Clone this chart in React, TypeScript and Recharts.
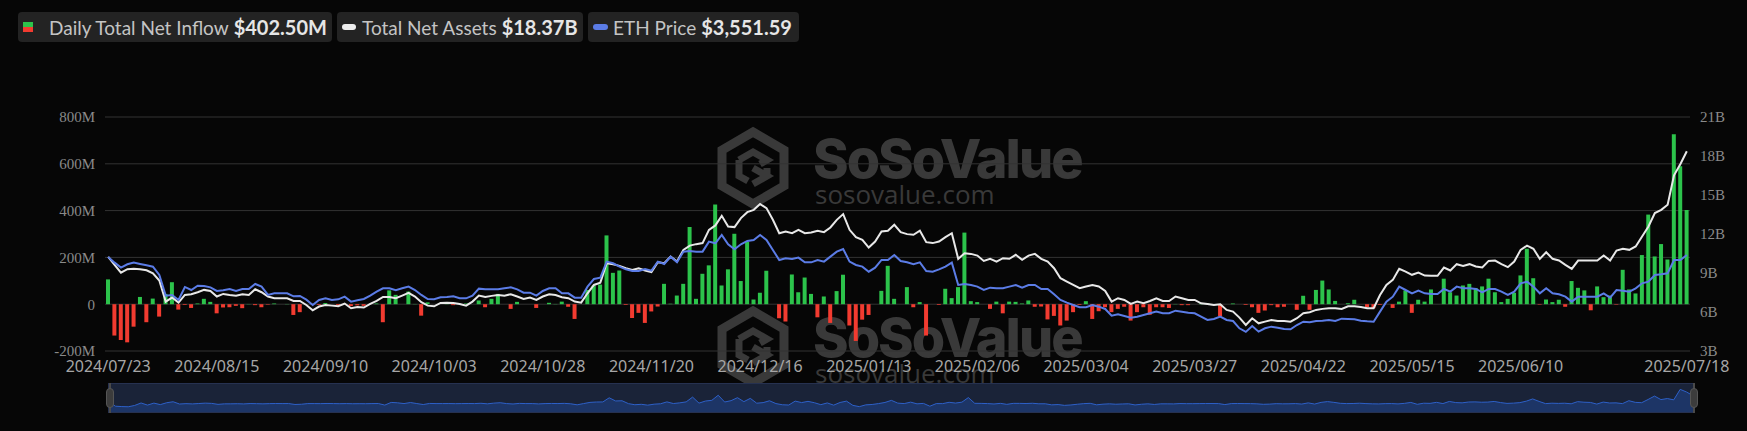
import React from 'react';
import {
  ComposedChart, Bar, Line, XAxis, YAxis, CartesianGrid, Cell,
  AreaChart, Area
} from 'recharts';

// trading days per month (US market calendar)
const tradingDays: [string, number[]][] = [
  ['2024/07', [23, 24, 25, 26, 29, 30, 31]],
  ['2024/08', [1, 2, 5, 6, 7, 8, 9, 12, 13, 14, 15, 16, 19, 20, 21, 22, 23, 26, 27, 28, 29, 30]],
  ['2024/09', [3, 4, 5, 6, 9, 10, 11, 12, 13, 16, 17, 18, 19, 20, 23, 24, 25, 26, 27, 30]],
  ['2024/10', [1, 2, 3, 4, 7, 8, 9, 10, 11, 14, 15, 16, 17, 18, 21, 22, 23, 24, 25, 28, 29, 30, 31]],
  ['2024/11', [1, 4, 5, 6, 7, 8, 11, 12, 13, 14, 15, 18, 19, 20, 21, 22, 25, 26, 27, 29]],
  ['2024/12', [2, 3, 4, 5, 6, 9, 10, 11, 12, 13, 16, 17, 18, 19, 20, 23, 24, 26, 27, 30, 31]],
  ['2025/01', [2, 3, 6, 7, 8, 10, 13, 14, 15, 16, 17, 21, 22, 23, 24, 27, 28, 29, 30, 31]],
  ['2025/02', [3, 4, 5, 6, 7, 10, 11, 12, 13, 14, 18, 19, 20, 21, 24, 25, 26, 27, 28]],
  ['2025/03', [3, 4, 5, 6, 7, 10, 11, 12, 13, 14, 17, 18, 19, 20, 21, 24, 25, 26, 27, 28, 31]],
  ['2025/04', [1, 2, 3, 4, 7, 8, 9, 10, 11, 14, 15, 16, 17, 21, 22, 23, 24, 25, 28, 29, 30]],
  ['2025/05', [1, 2, 5, 6, 7, 8, 9, 12, 13, 14, 15, 16, 19, 20, 21, 22, 23, 27, 28, 29, 30]],
  ['2025/06', [2, 3, 4, 5, 6, 9, 10, 11, 12, 13, 16, 17, 18, 20, 23, 24, 25, 26, 27, 30]],
  ['2025/07', [1, 2, 3, 7, 8, 9, 10, 11, 14, 15, 16, 17, 18]],
];

const xTicks = [
  '2024/07/23', '2024/08/15', '2024/09/10', '2024/10/03', '2024/10/28', '2024/11/20',
  '2024/12/16', '2025/01/13', '2025/02/06', '2025/03/04', '2025/03/27', '2025/04/22',
  '2025/05/15', '2025/06/10', '2025/07/18',
];

// daily total net inflow, $M
const netInflow = [
  106, -134, -153, -163, -96, 31, -77, 24, -53, 44,
  94, -23, -3, -16, 3, 23, 10, -39, -14, -13,
  -7, -17, 1, -4, -13, -2, 3, 0, 1, -46,
  -34, 0, 0, -3, 5, 0, -6, 0, -8, -5,
  -7, 0, 3, -77, 59, 40, 0, 54, 1, -49,
  8, 0, 0, 1, -4, 0, 3, 0, 16, -13,
  23, 44, 0, -20, 10, 0, 0, -16, 0, 6,
  1, 11, -11, -63, 0, 61, 80, 84, 294, 134,
  144, -3, -59, -37, -80, -31, -10, 87, 2, 37,
  87, 330, 23, 130, 166, 426, 80, 149, 301, 99,
  266, 20, 49, 143, 0, -60, -74, 127, 51, 114,
  44, -56, 33, -80, 56, 126, -91, -157, -66, -46,
  0, 57, 164, 23, 0, 73, -13, 9, -134, 0,
  -3, 66, 26, 73, 306, 13, 9, 0, -20, 11,
  -39, 11, 10, 3, 16, -11, -10, -65, -50, -91,
  -70, -34, -3, 13, -63, -30, -13, -34, -20, -11,
  -70, -34, -13, -45, -13, -13, -16, 1, -4, -4,
  0, 3, 3, 0, -51, 0, 3, 0, -3, -13,
  -37, -27, -4, -13, -11, 0, -24, 36, -24, 61,
  101, 63, 14, 0, 4, 19, 0, -13, -17, -3,
  0, -16, 11, 59, -37, 19, 11, 63, 0, 109,
  51, 37, 80, 87, 69, 76, 109, 51, 9, 23,
  49, 123, 237, 111, -2, 20, 9, 19, -11, 99,
  70, 59, -26, 76, 30, 37, -2, 147, 63, 46,
  210, 383, 204, 257, 191, 726, 590, 402.5,
];

// total net assets, $B
const netAssets = [
  10.24, 9.63, 9.03, 9.29, 9.32, 9.29, 9.21, 8.98, 8.42, 6.80,
  7.11, 6.72, 7.31, 7.37, 7.52, 7.70, 7.62, 7.19, 7.39, 7.31,
  7.26, 7.37, 7.31, 7.75, 7.52, 7.19, 7.06, 7.06, 7.06, 6.85,
  6.85, 6.54, 6.13, 6.42, 6.54, 6.49, 6.44, 6.65, 6.29, 6.39,
  6.34, 6.62, 6.85, 7.16, 7.16, 7.06, 7.26, 7.47, 7.19, 6.75,
  6.49, 6.44, 6.70, 6.72, 6.70, 6.62, 6.49, 6.80, 7.26, 7.16,
  7.24, 7.31, 7.26, 7.37, 7.19, 7.01, 7.11, 6.93, 7.19, 7.37,
  7.31, 7.14, 7.06, 6.80, 6.72, 7.44, 8.08, 8.26, 9.75, 9.68,
  9.55, 9.37, 9.24, 9.37, 9.19, 9.06, 9.83, 9.75, 10.27, 9.88,
  10.78, 11.11, 11.22, 11.30, 12.32, 12.66, 13.40, 12.58, 12.53, 13.22,
  13.68, 13.86, 14.30, 13.99, 13.09, 12.06, 12.19, 12.06, 12.32, 12.06,
  12.12, 12.25, 12.14, 12.50, 13.09, 13.53, 12.32, 11.76, 11.55, 10.96,
  11.42, 12.19, 12.25, 12.71, 12.14, 11.99, 11.94, 12.25, 11.37, 11.30,
  11.42, 11.76, 12.06, 10.09, 10.52, 10.47, 10.34, 9.93, 10.09, 9.88,
  10.14, 10.09, 10.40, 10.01, 10.34, 10.47, 10.09, 9.88, 9.37, 8.60,
  8.34, 8.08, 7.83, 7.96, 8.08, 7.96, 7.62, 6.80, 7.06, 6.93,
  6.62, 6.80, 6.67, 6.85, 7.06, 6.85, 6.85, 7.19, 7.06, 6.93,
  6.93, 6.67, 6.62, 6.54, 6.60, 6.16, 6.03, 5.57, 5.00, 5.52,
  5.13, 5.26, 5.39, 5.31, 5.31, 5.26, 5.52, 5.90, 5.98, 6.16,
  6.24, 6.29, 6.29, 6.24, 6.44, 6.44, 6.39, 6.29, 6.29, 7.31,
  8.08, 8.47, 9.32, 9.11, 8.86, 9.03, 8.80, 8.78, 8.78, 9.42,
  9.19, 9.68, 9.55, 9.68, 9.50, 9.42, 9.93, 9.96, 9.68, 9.45,
  9.88, 10.78, 11.11, 10.86, 10.09, 10.60, 10.09, 9.96, 9.63, 9.32,
  9.96, 9.96, 9.96, 9.96, 10.34, 9.96, 10.73, 10.86, 10.78, 11.04,
  11.81, 12.58, 13.61, 13.86, 14.25, 16.51, 17.38, 18.37,
];

// ETH price, $
const ethPrice = [
  3496, 3339, 3200, 3293, 3339, 3302, 3265, 3228, 2997, 2424,
  2443, 2304, 2665, 2581, 2701, 2692, 2655, 2554, 2572, 2609,
  2554, 2609, 2609, 2748, 2674, 2443, 2489, 2489, 2489, 2406,
  2415, 2313, 2166, 2304, 2350, 2304, 2323, 2396, 2258, 2295,
  2332, 2424, 2535, 2628, 2628, 2572, 2628, 2674, 2581, 2443,
  2332, 2323, 2378, 2387, 2406, 2350, 2350, 2424, 2618, 2600,
  2600, 2600, 2628, 2655, 2600, 2507, 2507, 2424, 2554, 2628,
  2628, 2489, 2489, 2369, 2369, 2674, 2886, 2923, 3367, 3321,
  3228, 3154, 3108, 3108, 3163, 3117, 3367, 3302, 3505, 3348,
  3644, 3662, 3644, 3644, 3921, 3875, 4106, 3847, 3709, 3847,
  3940, 3967, 4106, 3967, 3690, 3413, 3459, 3441, 3478, 3348,
  3348, 3413, 3367, 3505, 3644, 3718, 3367, 3274, 3228, 3089,
  3200, 3413, 3413, 3551, 3385, 3348, 3293, 3348, 3108, 3089,
  3154, 3228, 3339, 2720, 2748, 2720, 2674, 2581, 2646, 2628,
  2628, 2674, 2720, 2646, 2720, 2720, 2609, 2609, 2461, 2304,
  2230, 2166, 2101, 2101, 2166, 2119, 2055, 1870, 1907, 1861,
  1814, 1842, 1888, 1935, 1981, 1935, 1935, 2008, 1981, 1953,
  1935, 1842, 1750, 1777, 1842, 1750, 1722, 1519, 1420, 1583,
  1426, 1519, 1565, 1537, 1500, 1491, 1611, 1703, 1685, 1722,
  1731, 1750, 1722, 1787, 1777, 1768, 1731, 1713, 1703, 1981,
  2258, 2396, 2674, 2581, 2489, 2563, 2489, 2470, 2470, 2609,
  2535, 2674, 2628, 2628, 2609, 2517, 2609, 2609, 2535, 2443,
  2535, 2766, 2812, 2674, 2489, 2628, 2489, 2461, 2396, 2258,
  2396, 2396, 2396, 2396, 2489, 2369, 2581, 2563, 2535, 2628,
  2766, 2812, 2997, 3015, 3043, 3413, 3413, 3551.59,
];

const dates = tradingDays.flatMap(([m, days]) =>
  days.map(d => `${m}/${String(d).padStart(2, '0')}`)
);

const data = dates.map((date, i) => ({
  date,
  flow: netInflow[i],
  assets: netAssets[i],
  eth: ethPrice[i],
}));

const GREEN = '#2cc34b';
const RED = '#f23b30';
const WHITE = '#e8e8e8';
const BLUE = '#5b7ce6';
const BG = '#060606';

const LegendBox = ({ left, width, icon, gap, label, value }: any) => (
  <div style={{
    position: 'absolute', left, top: 12, width, height: 30, boxSizing: 'border-box',
    background: '#232323', borderRadius: 4, display: 'flex', alignItems: 'center',
    paddingLeft: 5, fontFamily: 'Lato', whiteSpace: 'nowrap',
  }}>
    {icon}
    <span style={{ color: '#c4c4c4', fontSize: 19, marginLeft: gap }}>{label}</span>
    <span style={{ color: '#e6e6e6', fontSize: 20, fontWeight: 700, marginLeft: 5 }}>{value}</span>
  </div>
);

const Watermark = ({ dy }: { dy: number }) => (
  <g transform={`translate(0, ${dy})`} fill="none" stroke="#393939">
    <polygon points="753,132 784,150 784,186 753,204 722,186 722,150" strokeWidth={9} strokeLinejoin="miter" />
    <path d="M739 160 L753 152 L767 160 L760 164 M739 160 L739 176 L748 181 M753 168 L767 176 L753 184 M767 168 L767 176" strokeWidth={7} />
    <text x={813} y={178} stroke="none" fill="#393939" fontFamily="Inter" fontWeight={800} fontSize={54} letterSpacing={-2}>SoSoValue</text>
    <text x={815} y={204} stroke="none" fill="#393939" fontFamily="Open Sans" fontSize={26}>sosovalue.com</text>
  </g>
);

export default function App() {
  return (
    <div style={{ position: 'absolute', left: 0, top: 0, width: 1747, height: 431, background: BG, overflow: 'hidden' }}>
      <svg width={1747} height={431} style={{ position: 'absolute', left: 0, top: 0 }}>
        <Watermark dy={0} />
        <Watermark dy={179} />
      </svg>

      <div style={{ position: 'absolute', left: 0, top: 0 }}>
        <ComposedChart width={1747} height={431} data={data}
          margin={{ top: 117, right: 7, bottom: 50, left: 45 }}>
          <CartesianGrid yAxisId="left" vertical={false} stroke="#333" />
          <XAxis dataKey="date" ticks={xTicks} interval={0} tickLine={false} axisLine={false}
            tickSize={0} tickMargin={10} height={30}
            tick={{ fill: '#a6a6a6', fontSize: 16, fontFamily: 'Noto Sans' }} />
          <YAxis yAxisId="left" domain={[-200, 800]} ticks={[-200, 0, 200, 400, 600, 800]}
            tickFormatter={(v: number) => (v === 0 ? '0' : `${v}M`)} width={60} tickLine={false} axisLine={false}
            tickSize={0} tickMargin={10}
            tick={{ fill: '#8a8a8a', fontSize: 15, fontFamily: 'Liberation Serif' }} />
          <YAxis yAxisId="right" orientation="right" domain={[3, 21]} ticks={[3, 6, 9, 12, 15, 18, 21]}
            tickFormatter={(v: number) => `${v}B`} width={50} tickLine={false} axisLine={false}
            tickSize={0} tickMargin={10}
            tick={{ fill: '#8a8a8a', fontSize: 15, fontFamily: 'Liberation Serif' }} />
          <YAxis yAxisId="zeth" orientation="right" hide width={0} domain={[890, 7376]} />
          <Bar yAxisId="left" dataKey="flow" barSize={4} isAnimationActive={false}>
            {data.map((d, i) => <Cell key={i} fill={d.flow >= 0 ? GREEN : RED} />)}
          </Bar>
          <Line yAxisId="right" type="linear" dataKey="assets" stroke={WHITE} strokeWidth={2}
            dot={false} isAnimationActive={false} />
          <Line yAxisId="zeth" type="linear" dataKey="eth" stroke={BLUE} strokeWidth={2}
            dot={false} isAnimationActive={false} />
        </ComposedChart>
      </div>

      <LegendBox left={18} width={314} gap={16} label="Daily Total Net Inflow" value="$402.50M"
        icon={<div style={{ width: 10, height: 10, flex: 'none' }}>
          <div style={{ height: 5, background: GREEN }} />
          <div style={{ height: 5, background: RED }} />
        </div>} />
      <LegendBox left={337} width={246} gap={6} label="Total Net Assets" value="$18.37B"
        icon={<div style={{ width: 14, height: 6, borderRadius: 3, background: '#ededed', flex: 'none' }} />} />
      <LegendBox left={588} width={211} gap={5} label="ETH Price" value="$3,551.59"
        icon={<div style={{ width: 15, height: 6, borderRadius: 3, background: BLUE, flex: 'none' }} />} />

      <div style={{
        position: 'absolute', left: 108, top: 383, width: 1586, height: 30,
        background: '#1a2338', boxSizing: 'border-box', border: '1px solid #263150',
      }}>
        <AreaChart width={1584} height={28} data={data} margin={{ top: 0, right: 0, bottom: 0, left: 0 }}>
          <XAxis dataKey="date" hide />
          <YAxis hide domain={[-430, 1000]} />
          <Area type="linear" dataKey="flow" stroke="#2d60c8" strokeWidth={1} fill="#1d3566"
            fillOpacity={1} baseValue={-430} dot={false} isAnimationActive={false} />
        </AreaChart>
      </div>
      {[106, 1690].map(x => (
        <div key={x}>
          <div style={{ position: 'absolute', left: x + 3, top: 383, width: 2, height: 30, background: '#4a4a4a' }} />
          <div style={{
            position: 'absolute', left: x, top: 388, width: 8, height: 20, borderRadius: 4,
            background: '#3c3c3c', border: '1px solid #555', boxSizing: 'border-box',
          }} />
        </div>
      ))}
    </div>
  );
}
